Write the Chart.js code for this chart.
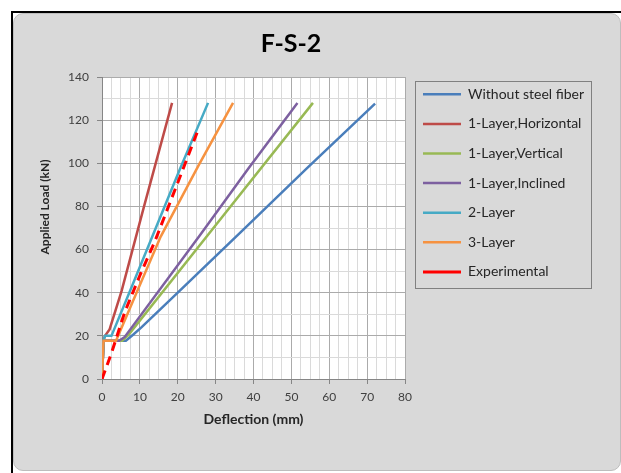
<!DOCTYPE html>
<html lang="en">
  <head>
    <meta charset="UTF-8" />
    <title>F-S-2 Load-Deflection</title>
    <script src="https://cdn.jsdelivr.net/npm/chart.js"></script>
    <style>
      body {
        margin: 0;
        background: #fff;
      }
      .frame {
        position: absolute;
        left: 11px;
        top: 11px;
        width: 620px;
        height: 470px;
        border-left: 2px solid #000;
        border-top: 2px solid #000;
      }
      .panel {
        position: absolute;
        left: 13px;
        top: 13px;
        width: 606px;
        height: 456px;
        background: #d9d9d9;
        border: 1px solid #bdbdbd;
        border-radius: 10px;
      }
      #chart {
        position: absolute;
        left: 0;
        top: 0;
      }
    </style>
  </head>
  <body>
    <div class="frame"></div>
    <div class="panel"></div>
    <canvas id="chart" width="621" height="473"></canvas>

    <script>
      // Chart text
      const chartTitle = "F-S-2";
      const xAxisTitle = "Deflection (mm)";
      // leading en-spaces nudge the label up the axis like the original
      const yAxisTitle = "\u2002\u2002\u2002\u2002\u2002\u2002\u2002Applied Load (kN)";

      // Axis ranges: labelled every 10 / 20, light grid every 2.5 / 10
      const xRange = [0, 80];
      const yRange = [0, 140];
      const xMinorStep = 2.5, xMajorStep = 10;
      const yMinorStep = 10, yMajorStep = 20;

      const seriesNames = [
        "Without steel fiber",
        "1-Layer,Horizontal",
        "1-Layer,Vertical",
        "1-Layer,Inclined",
        "2-Layer",
        "3-Layer",
        "Experimental"
      ];
      const seriesColors = ["#4a7ebb", "#be4b48", "#98b954", "#7d60a0", "#46aac5", "#f69240", "#ff0000"];

      // Deflection (mm) / load (kN)
      const withoutFiberX = [0, 0.4, 6.3, 8.2, 10.4, 20, 36.5, 54, 72.1];
      const withoutFiberY = [0, 17.7, 17.7, 20.5, 23.9, 40, 67.9, 97.5, 127.7];

      const horizontalX = [0, 0.4, 0.8, 2.0, 5.2, 11.1, 18.5];
      const horizontalY = [0, 18, 20, 23, 41, 80, 128];

      const verticalX = [0, 0.4, 5.3, 7.0, 30.0, 55.7];
      const verticalY = [0, 17.7, 17.7, 20.5, 71.3, 128];

      const inclinedX = [0, 0.4, 4.5, 6.0, 26.0, 38.6, 51.6];
      const inclinedY = [0, 17.7, 17.7, 19.5, 67, 97.5, 128];

      const twoLayerX = [0, 0.4, 0.8, 2.5, 7.2, 13.5, 20.5, 28.0];
      const twoLayerY = [0, 18, 20, 20, 40, 67, 97, 128];

      const threeLayerX = [0, 0.4, 3.7, 9.6, 15.5, 25.5, 34.6];
      const threeLayerY = [0, 17.7, 17.7, 42, 66, 99, 128];

      const experimentalX = [0, 2.5, 6.0, 10.0, 14.0, 20.0, 25.5];
      const experimentalY = [0, 12, 31, 48, 64, 91, 116];

      const seriesX = [withoutFiberX, horizontalX, verticalX, inclinedX, twoLayerX, threeLayerX, experimentalX];
      const seriesY = [withoutFiberY, horizontalY, verticalY, inclinedY, twoLayerY, threeLayerY, experimentalY];

      const fontFamily = "Lato, 'Open Sans', sans-serif";
      const majorGrid = "#ababab";
      const minorGrid = "#dadada";
      const axisColor = "#868686";

      // Build datasets; later series are drawn on top, as in the original
      const datasets = seriesNames.map((name, i) => ({
        label: name,
        data: seriesX[i].map((x, j) => ({ x: x, y: seriesY[i][j] })),
        borderColor: seriesColors[i],
        backgroundColor: seriesColors[i],
        borderWidth: name === "Experimental" ? 3 : 2.5,
        borderDash: name === "Experimental" ? [9, 6] : [],
        showLine: true,
        pointRadius: 0,
        tension: 0,
        order: seriesNames.length - i
      }));

      // White plotting area
      const plotBackground = {
        id: "plotBackground",
        beforeDraw(chart) {
          const { ctx, chartArea } = chart;
          ctx.save();
          ctx.fillStyle = "#fff";
          ctx.fillRect(chartArea.left, chartArea.top, chartArea.right - chartArea.left, chartArea.bottom - chartArea.top);
          ctx.restore();
        }
      };

      // Title sits centred on the panel, not over the canvas
      const panelTitle = {
        id: "panelTitle",
        afterDraw(chart) {
          const ctx = chart.ctx;
          ctx.save();
          ctx.font = "bold 25px " + fontFamily;
          ctx.fillStyle = "#000";
          ctx.textAlign = "center";
          ctx.textBaseline = "middle";
          ctx.fillText(chartTitle, 291, 44);
          ctx.restore();
        }
      };

      // Move the legend a little and put a frame round it
      const legendFrame = {
        id: "legendFrame",
        afterLayout(chart) {
          chart.legend.left = chart.chartArea.right + 2.4;
          chart.legend.top = chart.chartArea.top - 5.3;
        },
        afterDraw(chart) {
          const boxes = chart.legend.legendHitBoxes;
          if (!boxes || !boxes.length) return;
          const first = boxes[0];
          const last = boxes[boxes.length - 1];
          const left = first.left - 8;
          const right = Math.max(...boxes.map(b => b.left + b.width)) + 7;
          const top = first.top - 6.3;
          const bottom = last.top + last.height + 9;
          const ctx = chart.ctx;
          ctx.save();
          ctx.strokeStyle = "#808080";
          ctx.lineWidth = 1;
          ctx.strokeRect(Math.round(left) + 0.5, Math.round(top) + 0.5, Math.round(right - left), Math.round(bottom - top));
          ctx.restore();
        }
      };

      const ctx = document.getElementById("chart").getContext("2d");
      new Chart(ctx, {
        type: "scatter",
        data: { datasets: datasets },
        options: {
          responsive: false,
          animation: false,
          devicePixelRatio: 1,
          layout: { padding: { left: 34, top: 77, right: 36, bottom: 41 } },
          plugins: {
            title: { display: false },
            tooltip: { enabled: false },
            legend: {
              position: "right",
              align: "start",
              maxWidth: 180,
              labels: {
                usePointStyle: true,
                pointStyle: "line",
                pointStyleWidth: 38,
                padding: 15.6,
                color: "#262626",
                font: { family: fontFamily, size: 14 },
                sort: (a, b) => a.datasetIndex - b.datasetIndex
              }
            }
          },
          scales: {
            x: {
              type: "linear",
              min: xRange[0],
              max: xRange[1],
              afterFit: (scale) => { scale.height = 53; },
              ticks: {
                stepSize: xMinorStep,
                autoSkip: false,
                maxRotation: 0,
                padding: 6,
                color: "#404040",
                font: { family: fontFamily, size: 12 },
                callback: (v) => (v % xMajorStep === 0 ? v : "")
              },
              grid: {
                tickLength: 5,
                color: (c) => (c.tick && c.tick.value % xMajorStep === 0 ? majorGrid : minorGrid),
                tickColor: (c) => (c.tick && c.tick.value % xMajorStep === 0 ? axisColor : "rgba(0,0,0,0)")
              },
              border: { color: axisColor, width: 1 },
              title: {
                display: true,
                text: xAxisTitle,
                color: "#262626",
                padding: { top: 4, bottom: 4 },
                font: { family: fontFamily, size: 14, weight: "bold" }
              }
            },
            y: {
              type: "linear",
              min: yRange[0],
              max: yRange[1],
              afterFit: (scale) => { scale.width = 68; },
              ticks: {
                stepSize: yMinorStep,
                autoSkip: false,
                padding: 8,
                color: "#404040",
                font: { family: fontFamily, size: 12 },
                callback: (v) => (v % yMajorStep === 0 ? v : "")
              },
              grid: {
                tickLength: 5,
                color: (c) => (c.tick && c.tick.value % yMajorStep === 0 ? majorGrid : minorGrid),
                tickColor: (c) => (c.tick && c.tick.value % yMajorStep === 0 ? axisColor : "rgba(0,0,0,0)")
              },
              border: { color: axisColor, width: 1 },
              title: {
                display: true,
                text: yAxisTitle,
                color: "#262626",
                padding: { top: 4, bottom: 4 },
                font: { family: fontFamily, size: 12, weight: "bold" }
              }
            }
          }
        },
        plugins: [plotBackground, panelTitle, legendFrame]
      });
    </script>
  </body>
</html>
